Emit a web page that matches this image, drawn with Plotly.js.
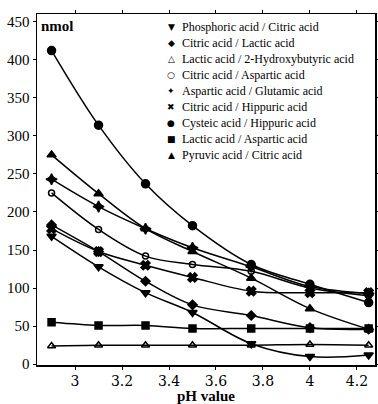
<!DOCTYPE html>
<html>
<head>
<meta charset="utf-8">
<script src="https://cdn.plot.ly/plotly-3.0.1.min.js"></script>
<style>html,body{margin:0;padding:0;background:#fff;}#chart{width:378px;height:404px;}</style>
</head>
<body>
<div id="chart"></div>
<script>
// pH values (x)
const phValues = [2.9, 3.1, 3.3, 3.5, 3.75, 4.0, 4.25];

// Series names (legend order)
const seriesNames = [
  "Phosphoric acid / Citric acid",
  "Citric acid / Lactic acid",
  "Lactic acid / 2-Hydroxybutyric acid",
  "Citric acid / Aspartic acid",
  "Aspartic acid / Glutamic acid",
  "Citric acid / Hippuric acid",
  "Cysteic acid / Hippuric acid",
  "Lactic acid / Aspartic acid",
  "Pyruvic acid / Citric acid"
];
const legendGlyphs = ["▼", "◆", "△", "○", "✦", "✖", "●", "■", "▲"];

// Values in nmol
const phosphoricCitric = [168, 128, 94, 68, 27, 10, 12];
const citricLactic = [183, 148, 109, 78, 64, 48, 46];
const lactic2Hydroxybutyric = [24, 25, 25, 25, 25, 26, 25];
const citricAspartic = [225, 177, 142, 131, 122, 100, 90];
const asparticGlutamic = [243, 207, 178, 153, 128, 102, 93];
const citricHippuric = [178, 148, 130, 114, 96, 94, 94];
const cysteicHippuric = [412, 314, 237, 182, 131, 105, 81];
const lacticAspartic = [55, 51, 51, 47, 47, 47, 47];
const pyruvicCitric = [275, 224, 178, 148, 113, 73, 46];

const yTicks = [0, 50, 100, 150, 200, 250, 300, 350, 400, 450];
const xTicks = [3, 3.2, 3.4, 3.6, 3.8, 4, 4.2];
const xTickLabels = ["3", "3.2", "3.4", "3.6", "3.8", "4", "4.2"];

const seriesValues = [phosphoricCitric, citricLactic, lactic2Hydroxybutyric, citricAspartic,
  asparticGlutamic, citricHippuric, cysteicHippuric, lacticAspartic, pyruvicCitric];
const symbols = ["triangle-down", "diamond", "triangle-up-open", "circle-open",
  "star-diamond", "x", "circle", "square", "triangle-up"];
const sizes = [8, 7, 7, 6, 8, 8, 8, 7, 8];

const traces = [];
seriesValues.forEach((vals, i) => {
  traces.push({
    x: phValues, y: vals, type: "scatter", mode: "lines+markers",
    line: {color: "#000", width: 1.5, shape: "spline", smoothing: 1},
    marker: {symbol: symbols[i], size: sizes[i], color: "#000", line: {color: "#000", width: 1.5}},
    showlegend: false, name: seriesNames[i], hoverinfo: "skip"
  });
});

const H = 404, mt = 14, mb = 39;
const plotH = H - mt - mb;
const annotations = [{
  text: "<b>nmol</b>", xref: "paper", yref: "paper", x: 0.005, y: 0.995,
  xanchor: "left", yanchor: "top", showarrow: false,
  font: {family: "serif", size: 15, color: "#000"}
}];
seriesNames.forEach((nm, i) => {
  const py = 27 + 16 * i; // legend row centre in page pixels
  const yp = (H - mb - py) / plotH;
  annotations.push({text: legendGlyphs[i], xref: "paper", yref: "paper", x: (171 - 37) / 338, y: yp,
    xanchor: "center", yanchor: "middle", showarrow: false,
    font: {family: "DejaVu Sans", size: 9, color: "#000"}});
  annotations.push({text: nm, xref: "paper", yref: "paper", x: (180 - 37) / 338, y: yp,
    xanchor: "left", yanchor: "middle", showarrow: false,
    font: {family: "Times New Roman", size: 12, color: "#000"}});
});

const layout = {
  width: 378, height: H,
  margin: {l: 37, r: 3, t: mt, b: mb},
  paper_bgcolor: "#fff", plot_bgcolor: "#fff",
  font: {family: "Liberation Serif", color: "#000", size: 15},
  showlegend: false,
  xaxis: {
    range: [2.838, 4.277], tickvals: xTicks, ticktext: xTickLabels,
    showgrid: false, zeroline: false, showline: true, linecolor: "#000", linewidth: 1.5,
    mirror: "ticks", ticks: "outside", ticklen: 3, tickcolor: "#000",
    tickfont: {family: "DejaVu Serif", size: 14, color: "#000"},
    title: {text: "<b>pH value</b>", font: {family: "Liberation Serif", size: 15, color: "#000"}, standoff: 2}
  },
  yaxis: {
    range: [-1, 460], tickvals: yTicks,
    showgrid: false, zeroline: false, showline: true, linecolor: "#000", linewidth: 1.5,
    mirror: "ticks", ticks: "outside", ticklen: 3, tickcolor: "#000",
    tickfont: {family: "Liberation Serif", size: 15, color: "#000"}
  },
  annotations: annotations
};

Plotly.newPlot("chart", traces, layout, {displayModeBar: false, staticPlot: true});
</script>
</body>
</html>
